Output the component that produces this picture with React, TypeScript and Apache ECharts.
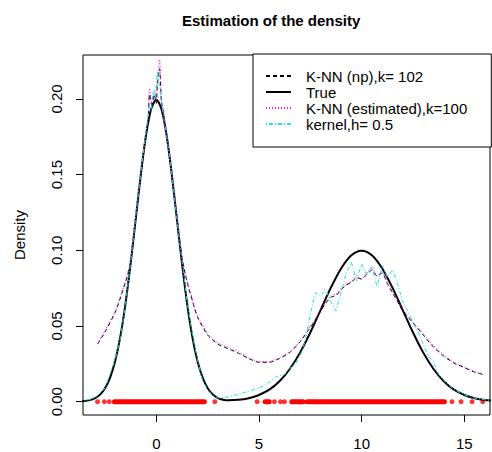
import React, { useEffect, useRef } from "react";
import * as echarts from "echarts";

const FONT = "'Liberation Sans', Arial, Helvetica, sans-serif";

const xTicks = [0, 5, 10, 15];
const yTicks = [0, 0.05, 0.1, 0.15, 0.2];

const seriesNames = ["K-NN (np),k= 102", "True", "K-NN (estimated),k=100", "kernel,h= 0.5"];

const trueX = [-3.75, -3.5, -3.25, -3, -2.75, -2.5, -2.25, -2, -1.75, -1.5, -1.25, -1, -0.75, -0.5, -0.25, 0, 0.25, 0.5, 0.75, 1, 1.25, 1.5, 1.75, 2, 2.25, 2.5, 2.75, 3, 3.25, 3.5, 4, 4.5, 5, 5.5, 6, 6.5, 7, 7.5, 8, 8.5, 9, 9.5, 10, 10.5, 11, 11.5, 12, 12.5, 13, 13.5, 14, 14.5, 15, 15.5, 16, 16.5];
const trueY = [0.00018, 0.00044, 0.001, 0.0022, 0.0045, 0.0088, 0.0159, 0.027, 0.0431, 0.0648, 0.0913, 0.121, 0.1506, 0.176, 0.1933, 0.1995, 0.1933, 0.176, 0.1506, 0.121, 0.0913, 0.0648, 0.0431, 0.027, 0.016, 0.0089, 0.0047, 0.0024, 0.0013, 0.0009, 0.0012, 0.0023, 0.0044, 0.0079, 0.0135, 0.0216, 0.0324, 0.0457, 0.0605, 0.0753, 0.088, 0.0967, 0.0997, 0.0967, 0.088, 0.0753, 0.0605, 0.0457, 0.0324, 0.0216, 0.0135, 0.0079, 0.0044, 0.0023, 0.0011, 0.0005];

const knnX = [-2.86, -2.5, -2.0, -1.5, -1.25, -1.0, -0.75, -0.5, -0.4, -0.33, -0.2, -0.1, 0.0, 0.05, 0.16, 0.25, 0.35, 0.5, 0.75, 1.0, 1.25, 1.5, 1.75, 2.0, 2.5, 3.0, 3.5, 4.0, 4.5, 5.0, 5.5, 6.0, 6.5, 7.0, 7.5, 7.75, 8.0, 8.25, 8.5, 8.75, 9.0, 9.25, 9.5, 9.75, 10.0, 10.25, 10.5, 10.75, 11.0, 11.25, 11.5, 11.75, 12.0, 12.5, 13.0, 13.5, 14.0, 14.5, 15.0, 15.5, 15.9];
const knnEstY = [0.0385, 0.047, 0.06, 0.08, 0.093, 0.122, 0.151, 0.178, 0.188, 0.207, 0.196, 0.206, 0.199, 0.213, 0.226, 0.2, 0.193, 0.178, 0.15, 0.123, 0.096, 0.08, 0.068, 0.057, 0.045, 0.039, 0.036, 0.033, 0.029, 0.0265, 0.0265, 0.029, 0.033, 0.04, 0.05, 0.055, 0.061, 0.066, 0.07, 0.071, 0.075, 0.078, 0.079, 0.083, 0.081, 0.085, 0.089, 0.083, 0.086, 0.079, 0.073, 0.067, 0.061, 0.053, 0.045, 0.037, 0.031, 0.026, 0.023, 0.02, 0.0185];
const knnNpY = [0.038, 0.046, 0.059, 0.079, 0.092, 0.121, 0.15, 0.177, 0.186, 0.203, 0.194, 0.203, 0.197, 0.209, 0.22, 0.198, 0.191, 0.177, 0.149, 0.122, 0.095, 0.079, 0.067, 0.056, 0.044, 0.038, 0.035, 0.032, 0.0285, 0.026, 0.026, 0.0285, 0.0325, 0.0395, 0.049, 0.054, 0.06, 0.065, 0.069, 0.07, 0.074, 0.077, 0.079, 0.082, 0.081, 0.084, 0.087, 0.083, 0.085, 0.078, 0.072, 0.066, 0.06, 0.052, 0.044, 0.036, 0.03, 0.0255, 0.0225, 0.0195, 0.018];

const kernX = [-3.5, -3.0, -2.5, -2.0, -1.75, -1.5, -1.25, -1.0, -0.75, -0.5, -0.35, -0.25, -0.15, -0.05, 0.05, 0.15, 0.25, 0.5, 0.75, 1.0, 1.25, 1.5, 1.75, 2.0, 2.25, 2.5, 2.75, 3.0, 3.5, 4.0, 4.5, 5.0, 5.5, 5.85, 6.25, 6.5, 6.75, 7.0, 7.25, 7.5, 7.75, 8.0, 8.25, 8.5, 8.75, 9.0, 9.25, 9.5, 9.75, 10.0, 10.25, 10.5, 10.75, 11.0, 11.25, 11.5, 11.75, 12.0, 12.25, 12.5, 12.75, 13.0, 13.25, 13.5, 13.75, 14.0, 14.5, 15.0, 15.5, 16.0, 16.5];
const kernY = [0.0005, 0.0025, 0.009, 0.028, 0.042, 0.064, 0.092, 0.123, 0.152, 0.178, 0.195, 0.192, 0.205, 0.2, 0.218, 0.21, 0.197, 0.176, 0.151, 0.121, 0.093, 0.066, 0.045, 0.028, 0.014, 0.008, 0.004, 0.0025, 0.003, 0.005, 0.007, 0.009, 0.013, 0.0165, 0.018, 0.022, 0.024, 0.03, 0.04, 0.058, 0.072, 0.07, 0.074, 0.066, 0.06, 0.072, 0.085, 0.092, 0.08, 0.091, 0.084, 0.089, 0.076, 0.09, 0.082, 0.087, 0.078, 0.066, 0.06, 0.052, 0.046, 0.038, 0.03, 0.026, 0.018, 0.014, 0.008, 0.0045, 0.0023, 0.0012, 0.0005];

// observations shown as a rug of red points at y = 0
const rugPoints = [-2.86, -2.53, -2.29, 2.85, 4.91, 5.75, 6.05, 6.24, 14.4, 14.84, 15.38, 15.9];
const rugRuns = [
  [-2.04, 2.34],
  [5.3, 5.5],
  [6.6, 7.15],
  [7.35, 14.03],
];

const zip = (xs: number[], ys: number[]) => xs.map((x, i) => [x, ys[i]]);

const X_MIN = -3.57;
const X_MAX = 16.25;
const Y_MIN = -0.00881;
const Y_MAX = 0.229;

export default function App() {
  const ref = useRef<HTMLDivElement>(null);
  useEffect(() => {
    if (!ref.current) return;
    const chart = echarts.init(ref.current, null, { renderer: "svg" });
    const lineBase = {
      type: "line",
      showSymbol: false,
      symbol: "none",
      clip: true,
    };
    const tickStyle = { show: true, length: 7, lineStyle: { color: "#000", width: 1 } };
    const option = {
      animation: false,
      backgroundColor: "#ffffff",
      textStyle: { fontFamily: FONT },
      title: {
        text: "Estimation of the density",
        left: 182,
        top: 13,
        padding: 0,
        textStyle: { fontSize: 15, fontWeight: "bold", color: "#000", fontFamily: FONT },
      },
      grid: {
        left: 83,
        top: 55,
        right: 2,
        bottom: 37,
        show: true,
        borderColor: "#000",
        borderWidth: 1,
      },
      xAxis: [
        {
          type: "value",
          min: X_MIN,
          max: X_MAX,
          position: "bottom",
          axisLine: { show: false, onZero: false },
          splitLine: { show: false },
          axisTick: { ...tickStyle, customValues: xTicks },
          axisLabel: {
            customValues: xTicks,
            margin: 21,
            fontSize: 15,
            color: "#000",
            fontFamily: FONT,
            formatter: (v: number) => String(v),
          },
        },
        {
          type: "value",
          min: X_MIN,
          max: X_MAX,
          position: "bottom",
          axisLine: { show: false, onZero: false },
          splitLine: { show: false },
          axisTick: { ...tickStyle, customValues: xTicks },
          axisLabel: { show: false },
        },
      ],
      yAxis: [
        {
          type: "value",
          min: Y_MIN,
          max: Y_MAX,
          position: "left",
          name: "Density",
          nameLocation: "middle",
          nameGap: 56,
          nameTextStyle: { fontSize: 15, color: "#000", fontFamily: FONT },
          axisLine: { show: false, onZero: false },
          splitLine: { show: false },
          axisTick: { ...tickStyle, customValues: yTicks },
          axisLabel: {
            customValues: yTicks,
            rotate: 90,
            margin: 19,
            fontSize: 15,
            color: "#000",
            fontFamily: FONT,
            formatter: (v: number) => v.toFixed(2),
          },
        },
        {
          type: "value",
          min: Y_MIN,
          max: Y_MAX,
          position: "left",
          axisLine: { show: false, onZero: false },
          splitLine: { show: false },
          axisTick: { ...tickStyle, customValues: yTicks },
          axisLabel: { show: false },
        },
      ],
      legend: {
        data: seriesNames,
        orient: "vertical",
        left: 253,
        top: 54,
        padding: [14, 24, 15, 12],
        itemWidth: 25,
        itemHeight: 10,
        itemGap: 0,
        borderColor: "#000",
        borderWidth: 1,
        borderRadius: 0,
        backgroundColor: "#fff",
        selectedMode: false,
        itemStyle: { color: "rgba(0,0,0,0)", borderColor: "rgba(0,0,0,0)", borderWidth: 0, opacity: 0 },
        textStyle: { fontSize: 15, color: "#000", lineHeight: 16, fontFamily: FONT, padding: [0, 0, 0, 10] },
      },
      series: [
        {
          ...lineBase,
          name: seriesNames[0],
          data: zip(knnX, knnNpY),
          smooth: 0.2,
          lineStyle: { color: "#000", width: 1, type: [4, 3] },
          itemStyle: { color: "#000" },
        },
        {
          ...lineBase,
          name: seriesNames[1],
          data: zip(trueX, trueY),
          smooth: 0.3,
          lineStyle: { color: "#000", width: 2, type: "solid" },
          itemStyle: { color: "#000" },
        },
        {
          ...lineBase,
          name: seriesNames[2],
          data: zip(knnX, knnEstY),
          smooth: 0.2,
          lineStyle: { color: "#ff00ff", width: 1, type: [1, 2] },
          itemStyle: { color: "#ff00ff" },
        },
        {
          ...lineBase,
          name: seriesNames[3],
          data: zip(kernX, kernY),
          lineStyle: { color: "#20e0e0", width: 1, type: [1, 2, 4, 2] },
          itemStyle: { color: "#20e0e0" },
        },
        ...rugRuns.map((r, i) => ({
          type: "line",
          name: "rug" + i,
          showSymbol: false,
          symbol: "none",
          data: [
            [r[0], 0],
            [r[1], 0],
          ],
          lineStyle: { color: "#ff0000", width: 5, cap: "round" },
          itemStyle: { color: "#ff0000" },
        })),
        {
          type: "scatter",
          name: "obs",
          symbol: "circle",
          symbolSize: 5,
          data: rugPoints.map((x) => [x, 0]),
          itemStyle: { color: "#ff0000" },
        },
      ],
    };
    chart.setOption(option as any);
    return () => chart.dispose();
  }, []);
  return (
    <div
      ref={ref}
      style={{ position: "fixed", left: 0, top: 0, width: 492, height: 452, background: "#fff" }}
    />
  );
}
